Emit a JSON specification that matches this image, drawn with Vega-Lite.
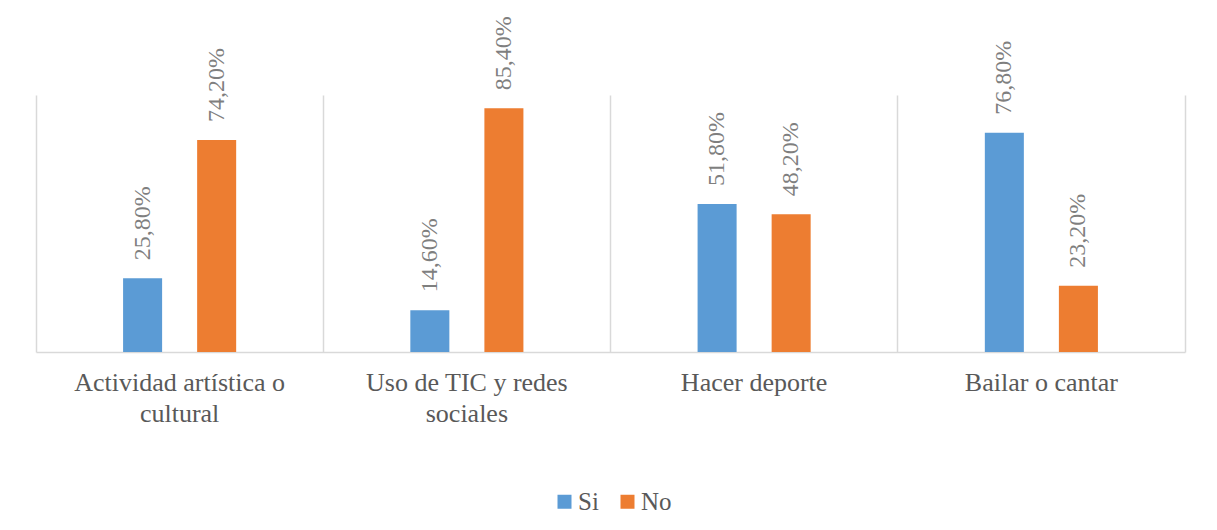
{
  "$schema": "https://vega.github.io/schema/vega-lite/v6.json",
  "width": 1149,
  "height": 257,
  "autosize": "none",
  "padding": {"left": 36, "top": 95, "right": 32, "bottom": 178},
  "background": "white",
  "config": {
    "view": {"stroke": null},
    "font": "Liberation Serif",
    "locale": {"number": {"decimal": ",", "thousands": ".", "grouping": [3], "currency": ["", " €"]}}
  },
  "data": {
    "values": [
      {"categoria": "Actividad artística o cultural", "respuesta": "Si", "valor": 0.258},
      {"categoria": "Actividad artística o cultural", "respuesta": "No", "valor": 0.742},
      {"categoria": "Uso de TIC y redes sociales", "respuesta": "Si", "valor": 0.146},
      {"categoria": "Uso de TIC y redes sociales", "respuesta": "No", "valor": 0.854},
      {"categoria": "Hacer deporte", "respuesta": "Si", "valor": 0.518},
      {"categoria": "Hacer deporte", "respuesta": "No", "valor": 0.482},
      {"categoria": "Bailar o cantar", "respuesta": "Si", "valor": 0.768},
      {"categoria": "Bailar o cantar", "respuesta": "No", "valor": 0.232}
    ]
  },
  "encoding": {
    "x": {
      "field": "categoria",
      "type": "nominal",
      "sort": ["Actividad artística o cultural", "Uso de TIC y redes sociales", "Hacer deporte", "Bailar o cantar"],
      "scale": {"paddingInner": 0, "paddingOuter": 0},
      "axis": {
        "title": null,
        "labelAngle": 0,
        "labelFont": "Liberation Serif",
        "labelFontSize": 26,
        "labelColor": "#595959",
        "labelLineHeight": 31,
        "labelPadding": 17,
        "labelLimit": 0,
        "ticks": false,
        "domainColor": "#d9d9d9",
        "domainWidth": 1.5,
        "grid": true,
        "gridColor": "#d9d9d9",
        "gridWidth": 1.5,
        "bandPosition": 0,
        "labelExpr": "datum.value == 'Actividad artística o cultural' ? ['Actividad artística o', 'cultural'] : datum.value == 'Uso de TIC y redes sociales' ? ['Uso de TIC y redes', 'sociales'] : datum.value"
      }
    },
    "xOffset": {
      "field": "respuesta",
      "type": "nominal",
      "scale": {"domain": ["A", "Si", "No", "B"], "paddingInner": 0.473, "paddingOuter": 0.176}
    },
    "y": {
      "field": "valor",
      "type": "quantitative",
      "scale": {"domain": [0, 0.9], "nice": false},
      "axis": {
        "orient": "right",
        "title": null,
        "labels": false,
        "ticks": false,
        "grid": false,
        "domain": true,
        "domainColor": "#d9d9d9",
        "domainWidth": 1.5
      }
    }
  },
  "layer": [
    {
      "mark": {"type": "bar"},
      "encoding": {
        "color": {
          "field": "respuesta",
          "type": "nominal",
          "scale": {"domain": ["Si", "No"], "range": ["#5B9BD5", "#ED7D31"]},
          "legend": {
            "title": null,
            "orient": "none",
            "direction": "horizontal",
            "legendX": 516,
            "legendY": 394,
            "symbolType": "square",
            "symbolSize": 196,
            "symbolStrokeWidth": 0,
            "labelFont": "Liberation Serif",
            "labelFontSize": 25,
            "labelColor": "#595959",
            "labelOffset": 1,
            "columnPadding": 16
          }
        }
      }
    },
    {
      "mark": {
        "type": "text",
        "angle": -90,
        "align": "left",
        "baseline": "middle",
        "dx": 18,
        "font": "Liberation Serif",
        "fontSize": 24,
        "color": "#7f7f7f"
      },
      "encoding": {
        "text": {"field": "valor", "type": "quantitative", "format": ".2%"}
      }
    }
  ]
}
